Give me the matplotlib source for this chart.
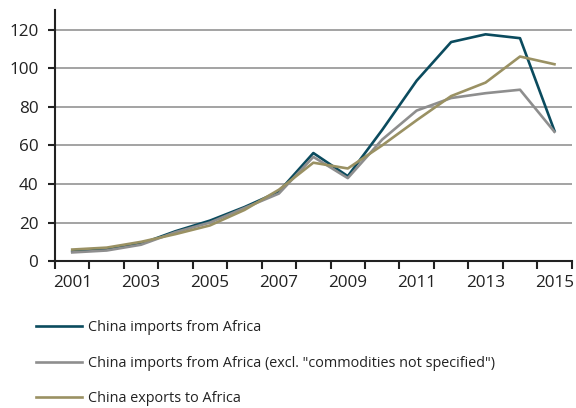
import numpy as np
import matplotlib.pyplot as plt

years = list(range(2001, 2016))
imports = [5, 6, 9, 15.5, 21, 28, 36, 56, 44, 68, 93.5, 113.5, 117.5, 115.5, 67.5]
imports_excl = [4.5, 5.5, 8.5, 15, 20, 27.5, 35, 54, 43, 63, 78, 84.5, 87, 88.8, 67]
exports = [6, 7, 10, 14, 18.5, 26.5, 37, 51, 48, 60, 73, 85.5, 92.5, 106, 102]
labels = ["China imports from Africa",
          "China imports from Africa (excl. \"commodities not specified\")",
          "China exports to Africa"]
colors = ["#0b4b5e", "#8e8e8e", "#9a9163"]

plt.rcParams['font.family'] = ['Open Sans', 'DejaVu Sans']

fig = plt.figure(figsize=(5.76, 4.08), dpi=100)
ax = fig.add_axes([0.0955, 0.36, 0.897, 0.615])

x = np.arange(len(years))
lines = []
for series, c, lab in zip([imports, imports_excl, exports], colors, labels):
    ln, = ax.plot(x, series, color=c, lw=1.9, label=lab, zorder=3)
    lines.append(ln)

ax.set_xlim(-0.5, len(years) - 0.5)
ax.set_ylim(0, 130)
ax.set_yticks(range(0, 121, 20))
for yv in range(20, 121, 20):
    ax.axhline(yv, color="#a3a3a3", lw=1.4, zorder=1)

ax.set_xticks(x[::2])
ax.set_xticklabels([str(y) for y in years[::2]])
ax.set_xticks(np.arange(-0.5, len(years)), minor=True)
ax.tick_params(axis='x', which='major', length=0, pad=10, labelsize=12.3)
ax.tick_params(axis='x', which='minor', length=6, width=1.5, color='#222222')
ax.tick_params(axis='y', length=5, width=1.5, labelsize=12.3, color='#222222', pad=7)
for lab in ax.get_xticklabels() + ax.get_yticklabels():
    lab.set_color('#222222')

for s in ['top', 'right']:
    ax.spines[s].set_visible(False)
for s in ['left', 'bottom']:
    ax.spines[s].set_linewidth(1.5)
    ax.spines[s].set_color('#222222')
    ax.spines[s].set_zorder(4)

leg = fig.legend(handles=lines, loc='upper left', bbox_to_anchor=(0.0625, 0.215),
                 frameon=False, fontsize=10.4, handlelength=3.2, handletextpad=0.4,
                 labelspacing=1.42, borderaxespad=0, borderpad=0)
for t in leg.get_texts():
    t.set_color('#222222')

fig.savefig("out.png", dpi=100)
